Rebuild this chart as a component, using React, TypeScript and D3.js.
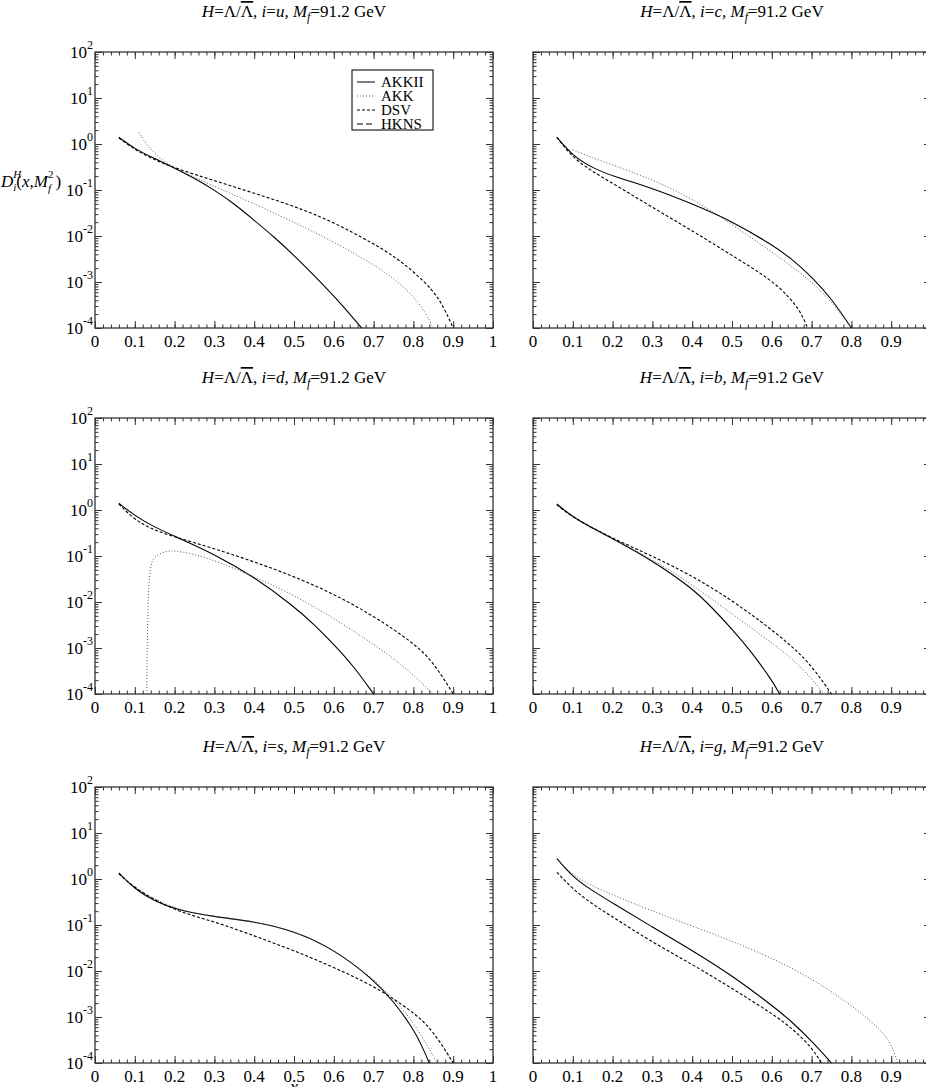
import { useEffect, useRef } from 'react';
import * as d3 from 'd3';

type Pt = [number, number];

// series names, in legend order
const SERIES = ['AKKII', 'AKK', 'DSV', 'HKNS'];

// i = u
const uAKKII: Pt[] = [[0.06, 1.4], [0.1, 0.78], [0.15, 0.48], [0.2, 0.3], [0.25, 0.18], [0.3, 0.1], [0.35, 0.05], [0.4, 0.022], [0.45, 0.0095], [0.5, 0.0038], [0.55, 0.0014], [0.6, 0.0005], [0.65, 0.00016], [0.67, 0.0001]];
const uAKK: Pt[] = [[0.11, 1.8], [0.13, 0.95], [0.16, 0.5], [0.2, 0.3], [0.25, 0.19], [0.3, 0.12], [0.4, 0.05], [0.5, 0.02], [0.6, 0.0075], [0.7, 0.0024], [0.75, 0.0012], [0.8, 0.0005], [0.83, 0.00022], [0.85, 0.0001]];
const uDSV: Pt[] = [[0.06, 1.35], [0.1, 0.75], [0.15, 0.45], [0.2, 0.3], [0.3, 0.16], [0.4, 0.085], [0.5, 0.045], [0.6, 0.02], [0.7, 0.0068], [0.75, 0.0037], [0.8, 0.0017], [0.85, 0.00065], [0.875, 0.0003], [0.9, 0.0001]];

// i = c
const cAKKII: Pt[] = [[0.06, 1.4], [0.1, 0.55], [0.15, 0.3], [0.2, 0.2], [0.3, 0.11], [0.4, 0.05], [0.5, 0.021], [0.6, 0.0065], [0.65, 0.0032], [0.7, 0.0013], [0.75, 0.00044], [0.8, 0.0001]];
const cAKK: Pt[] = [[0.1, 0.75], [0.15, 0.5], [0.2, 0.35], [0.3, 0.17], [0.4, 0.065], [0.5, 0.018], [0.6, 0.0045], [0.65, 0.0022], [0.7, 0.001], [0.75, 0.00038], [0.8, 0.0001]];
const cDSV: Pt[] = [[0.06, 1.4], [0.1, 0.5], [0.15, 0.25], [0.2, 0.14], [0.3, 0.042], [0.4, 0.013], [0.5, 0.0038], [0.6, 0.0011], [0.64, 0.0005], [0.67, 0.00025], [0.69, 0.0001]];

// i = d
const dAKKII: Pt[] = [[0.06, 1.4], [0.1, 0.75], [0.15, 0.42], [0.2, 0.27], [0.3, 0.11], [0.4, 0.035], [0.5, 0.008], [0.55, 0.0033], [0.6, 0.0012], [0.65, 0.0004], [0.7, 0.0001]];
const dAKK: Pt[] = [[0.13, 0.0001], [0.131, 0.001], [0.134, 0.02], [0.14, 0.07], [0.15, 0.1], [0.18, 0.13], [0.2, 0.13], [0.25, 0.11], [0.3, 0.08], [0.4, 0.036], [0.5, 0.014], [0.6, 0.0045], [0.7, 0.0012], [0.75, 0.0006], [0.8, 0.00026], [0.85, 0.0001]];
const dDSV: Pt[] = [[0.06, 1.35], [0.1, 0.6], [0.15, 0.36], [0.2, 0.26], [0.3, 0.145], [0.4, 0.075], [0.5, 0.036], [0.6, 0.015], [0.7, 0.005], [0.8, 0.0013], [0.85, 0.0005], [0.9, 0.0001]];

// i = b
const bAKKII: Pt[] = [[0.06, 1.35], [0.1, 0.7], [0.15, 0.4], [0.2, 0.24], [0.3, 0.08], [0.4, 0.02], [0.45, 0.0075], [0.5, 0.0026], [0.55, 0.0008], [0.6, 0.0002], [0.62, 0.0001]];
const bAKK: Pt[] = [[0.06, 1.3], [0.1, 0.7], [0.2, 0.24], [0.3, 0.085], [0.4, 0.024], [0.5, 0.0055], [0.6, 0.0013], [0.65, 0.0006], [0.7, 0.00022], [0.73, 0.0001]];
const bDSV: Pt[] = [[0.06, 1.3], [0.1, 0.68], [0.2, 0.24], [0.3, 0.1], [0.4, 0.037], [0.5, 0.011], [0.6, 0.0025], [0.65, 0.0011], [0.7, 0.00042], [0.75, 0.0001]];

// i = s
const sAKKII: Pt[] = [[0.06, 1.35], [0.1, 0.6], [0.15, 0.33], [0.2, 0.22], [0.3, 0.15], [0.4, 0.12], [0.5, 0.075], [0.6, 0.03], [0.7, 0.0065], [0.75, 0.0022], [0.8, 0.00055], [0.82, 0.00025], [0.84, 0.0001]];
const sAKK: Pt[] = [[0.06, 1.35], [0.1, 0.6], [0.2, 0.22], [0.3, 0.15], [0.4, 0.12], [0.5, 0.075], [0.6, 0.03], [0.7, 0.0068], [0.75, 0.0025], [0.8, 0.0008], [0.86, 0.0001]];
const sDSV: Pt[] = [[0.06, 1.3], [0.1, 0.62], [0.2, 0.2], [0.3, 0.12], [0.4, 0.058], [0.5, 0.028], [0.6, 0.012], [0.7, 0.0048], [0.8, 0.0013], [0.85, 0.0005], [0.9, 0.0001]];

// i = g
const gAKKII: Pt[] = [[0.06, 2.8], [0.1, 1.1], [0.15, 0.55], [0.2, 0.3], [0.3, 0.09], [0.4, 0.028], [0.5, 0.008], [0.6, 0.0018], [0.65, 0.0008], [0.7, 0.0003], [0.75, 0.0001]];
const gAKK: Pt[] = [[0.06, 2.7], [0.1, 1.2], [0.15, 0.7], [0.2, 0.45], [0.3, 0.2], [0.4, 0.095], [0.5, 0.045], [0.6, 0.019], [0.7, 0.007], [0.8, 0.0018], [0.85, 0.0008], [0.88, 0.00045], [0.9, 0.00026], [0.917, 0.0001]];
const gDSV: Pt[] = [[0.06, 1.4], [0.1, 0.6], [0.15, 0.28], [0.2, 0.15], [0.3, 0.042], [0.4, 0.014], [0.5, 0.0042], [0.6, 0.0012], [0.65, 0.00058], [0.7, 0.00022], [0.725, 0.0001]];

const PANELS = [
  { flavour: 'u', series: [uAKKII, uAKK, uDSV] },
  { flavour: 'c', series: [cAKKII, cAKK, cDSV] },
  { flavour: 'd', series: [dAKKII, dAKK, dDSV] },
  { flavour: 'b', series: [bAKKII, bAKK, bDSV] },
  { flavour: 's', series: [sAKKII, sAKK, sDSV] },
  { flavour: 'g', series: [gAKKII, gAKK, gDSV] },
];

const X_TICKS = [0, 0.1, 0.2, 0.3, 0.4, 0.5, 0.6, 0.7, 0.8, 0.9, 1];
const Y_EXPONENTS = [-4, -3, -2, -1, 0, 1, 2];

const DASHES = ['none', '1,2', '3,2', '6,3'];
const STROKES = ['#000', '#555', '#000', '#000'];
const FONT = '"Liberation Serif", Tinos, "Times New Roman", Times, serif';

const App = () => {
  const ref = useRef<SVGSVGElement>(null);

  useEffect(() => {
    const svg = d3.select(ref.current);
    svg.selectAll('*').remove();
    svg.attr('font-family', FONT);

    const colX = [95, 533];
    const rowY = [52, 418, 787];
    const w = 398;
    const h = 276;
    const viewW = 926;

    const minorX = d3.range(0, 51).map((i) => i / 50);
    const minorY: number[] = [];
    for (let e = -4; e < 2; e++) for (let k = 2; k <= 9; k++) minorY.push(k * Math.pow(10, e));

    PANELS.forEach((p, idx) => {
      const col = idx % 2;
      const row = Math.floor(idx / 2);
      const x0 = colX[col];
      const y0 = rowY[row];
      const x = d3.scaleLinear().domain([0, 1]).range([x0, x0 + w]);
      const y = d3.scaleLog().domain([1e-4, 1e2]).range([y0 + h, y0]);
      const g = svg.append('g');

      // title
      const t = g
        .append('text')
        .attr('x', x0 + w / 2)
        .attr('y', y0 - 35)
        .attr('text-anchor', 'middle')
        .attr('font-size', 17);
      t.append('tspan').attr('font-style', 'italic').text('H');
      t.append('tspan').text('=Λ/');
      t.append('tspan').style('text-decoration', 'overline').text('Λ');
      t.append('tspan').text(', ');
      t.append('tspan').attr('font-style', 'italic').text('i');
      t.append('tspan').text('=');
      t.append('tspan').attr('font-style', 'italic').text(p.flavour + ', M');
      t.append('tspan').attr('font-style', 'italic').attr('font-size', 12).attr('dy', 4).text('f');
      t.append('tspan').attr('dy', -4).text('=91.2 GeV');

      // frame
      g.append('rect')
        .attr('x', x0)
        .attr('y', y0)
        .attr('width', w)
        .attr('height', h)
        .attr('fill', 'none')
        .attr('stroke', '#222')
        .attr('stroke-width', 1.2);

      const tick = (
        gen: d3.Axis<number>,
        tx: number,
        ty: number,
        vals: number[],
        len: number
      ) => {
        const a = g
          .append('g')
          .attr('transform', `translate(${tx},${ty})`)
          .call(gen.tickValues(vals).tickSize(len).tickFormat(() => ''));
        a.select('.domain').remove();
        a.selectAll('line').attr('stroke', '#333');
      };

      tick(d3.axisBottom<number>(x), 0, y0 + h, X_TICKS, -7);
      tick(d3.axisBottom<number>(x), 0, y0 + h, minorX, -3.5);
      tick(d3.axisTop<number>(x), 0, y0, X_TICKS, -7);
      tick(d3.axisTop<number>(x), 0, y0, minorX, -3.5);
      const majY = Y_EXPONENTS.map((e) => Math.pow(10, e));
      tick(d3.axisLeft<number>(y), x0, 0, majY, -7);
      tick(d3.axisLeft<number>(y), x0, 0, minorY, -3.5);
      tick(d3.axisRight<number>(y), x0 + w, 0, majY, -7);
      tick(d3.axisRight<number>(y), x0 + w, 0, minorY, -3.5);

      // x labels (only those that fall inside the picture)
      g.selectAll('text.xl')
        .data(X_TICKS.filter((d) => x(d) < viewW - 6))
        .enter()
        .append('text')
        .attr('x', (d) => x(d))
        .attr('y', y0 + h + 19)
        .attr('text-anchor', 'middle')
        .attr('font-size', 17)
        .text((d) => (d === 0 || d === 1 ? String(d) : d.toFixed(1)));

      // y labels (left column only)
      if (col === 0) {
        Y_EXPONENTS.forEach((e) => {
          const yl = g
            .append('text')
            .attr('x', x0 - 2)
            .attr('y', y(Math.pow(10, e)) + 6)
            .attr('text-anchor', 'end')
            .attr('font-size', 17);
          yl.append('tspan').text('10');
          yl.append('tspan').attr('font-size', 12).attr('dy', -9).text(String(e));
        });
      }

      // curves
      const line = d3
        .line<Pt>()
        .x((d) => x(d[0]))
        .y((d) => y(d[1]))
        .curve(d3.curveBasis);
      p.series.forEach((s, i) => {
        g.append('path')
          .attr('d', line(s))
          .attr('fill', 'none')
          .attr('stroke', STROKES[i])
          .attr('stroke-width', i === 1 ? 1 : 1.1)
          .attr('stroke-dasharray', DASHES[i]);
      });
    });

    // legend
    const lg = svg.append('g');
    lg.append('rect')
      .attr('x', 352)
      .attr('y', 70)
      .attr('width', 81)
      .attr('height', 60)
      .attr('fill', '#fff')
      .attr('stroke', '#222')
      .attr('stroke-width', 1.2);
    SERIES.forEach((name, i) => {
      const ly = 82 + i * 14;
      lg.append('line')
        .attr('x1', 357)
        .attr('x2', 375)
        .attr('y1', ly)
        .attr('y2', ly)
        .attr('stroke', STROKES[i])
        .attr('stroke-dasharray', DASHES[i]);
      lg.append('text')
        .attr('x', 381)
        .attr('y', ly + 5)
        .attr('font-size', 15)
        .text(name);
    });

    // y axis title
    const yt = svg.append('text').attr('x', 1).attr('y', 187).attr('font-size', 17);
    yt.append('tspan').attr('font-style', 'italic').text('D');
    yt.append('tspan').attr('font-style', 'italic').attr('font-size', 11).attr('dy', -9).text('H');
    yt.append('tspan').attr('font-style', 'italic').attr('font-size', 11).attr('dy', 13).attr('dx', -8).text('i');
    yt.append('tspan').attr('dy', -4).text('(');
    yt.append('tspan').attr('font-style', 'italic').text('x');
    yt.append('tspan').text(',');
    yt.append('tspan').attr('font-style', 'italic').text('M');
    yt.append('tspan').attr('font-style', 'italic').attr('font-size', 11).attr('dy', 5).text('f');
    yt.append('tspan').attr('font-size', 11).attr('dy', -14).attr('dx', -3).text('2');
    yt.append('tspan').attr('dy', 9).attr('dx', 2).text(')');

    // x axis title
    svg.append('text')
      .attr('x', 294)
      .attr('y', 1093)
      .attr('text-anchor', 'middle')
      .attr('font-size', 18)
      .attr('font-style', 'italic')
      .text('x');
  }, []);

  return (
    <svg
      ref={ref}
      width={926}
      height={1087}
      style={{ position: 'absolute', left: 0, top: 0, background: '#fff' }}
    />
  );
};

export default App;
